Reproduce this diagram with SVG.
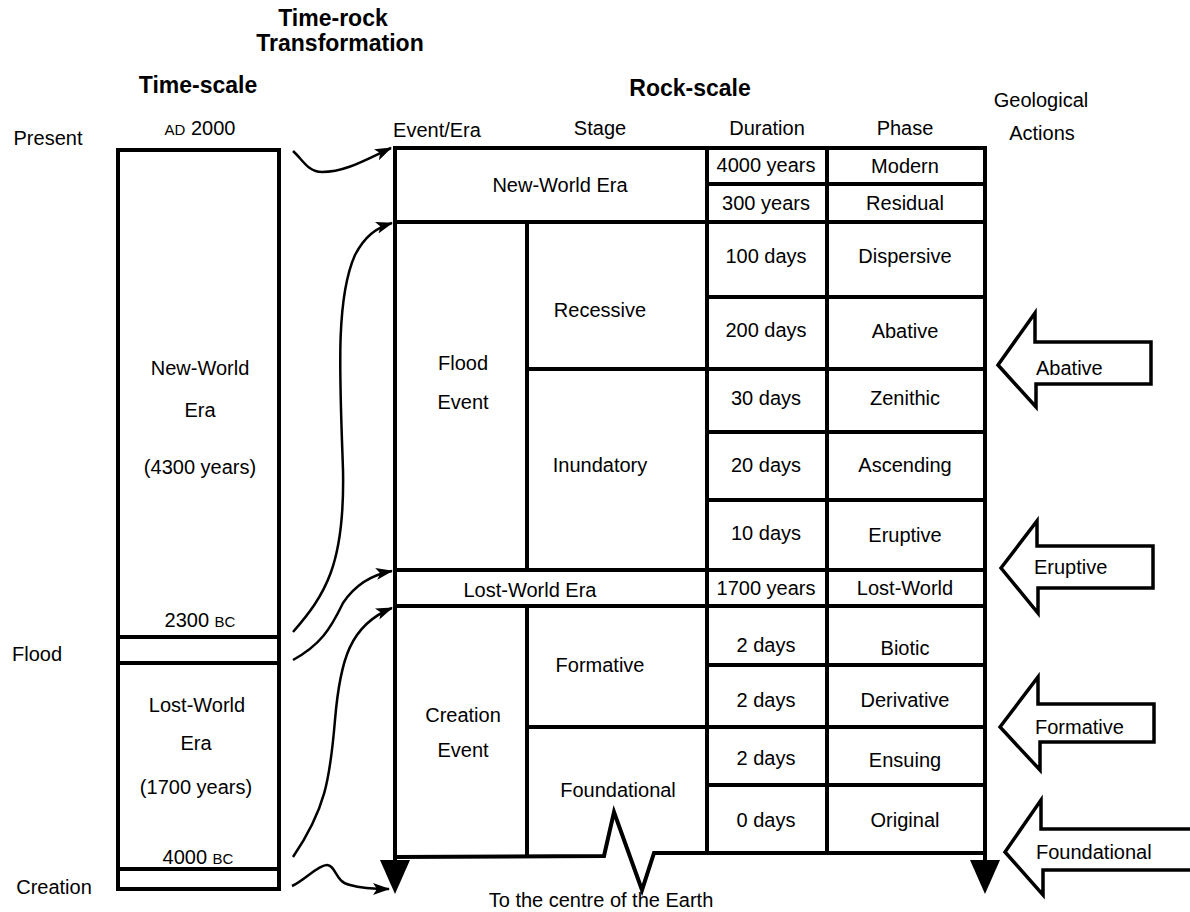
<svg xmlns="http://www.w3.org/2000/svg" width="1190" height="912" viewBox="0 0 1190 912">
<style>
  text { font-family: "Liberation Sans", Arial, sans-serif; font-size: 20px; fill: #000; }
  .c { text-anchor: middle; }
  .b { font-weight: bold; font-size: 23px; }
  .sc { font-size: 15px; }
  .ln { stroke: #000; stroke-width: 4; fill: none; }
  .box { stroke: #000; stroke-width: 4; fill: #fff; }
  .con { stroke: #000; stroke-width: 2.5; fill: none; marker-end: url(#ah); }
  .blk { stroke: #000; stroke-width: 3.5; fill: #fff; stroke-linejoin: miter; }
</style>
<defs>
  <marker id="ah" markerUnits="userSpaceOnUse" markerWidth="18" markerHeight="14" refX="16" refY="6" orient="auto">
    <path d="M0,0 L17,6 L0,12 L4,6 Z" fill="#000"/>
  </marker>
</defs>
<rect width="1190" height="912" fill="#fff"/>

<g id="headers">
  <text class="c b" x="333" y="26">Time-rock</text>
  <text class="c b" x="340" y="51">Transformation</text>
  <text class="c b" x="198" y="93">Time-scale</text>
  <text class="c b" x="690" y="96">Rock-scale</text>
  <text class="c" x="1041" y="107">Geological</text>
  <text class="c" x="1042" y="140">Actions</text>
  <text class="c" x="48" y="145">Present</text>
  <text class="c" x="200" y="135"><tspan class="sc">AD</tspan> 2000</text>
  <text class="c" x="437" y="137">Event/Era</text>
  <text class="c" x="600" y="135">Stage</text>
  <text class="c" x="767" y="135">Duration</text>
  <text class="c" x="905" y="135">Phase</text>
  <text class="c" x="37" y="661">Flood</text>
  <text class="c" x="54" y="894">Creation</text>
</g>

<g id="time-scale">
  <rect class="ln" x="118" y="150" width="161" height="739"/>
  <line class="ln" x1="118" y1="637" x2="279" y2="637"/>
  <line class="ln" x1="118" y1="663" x2="279" y2="663"/>
  <line class="ln" x1="118" y1="869" x2="279" y2="869"/>
  <text class="c" x="200" y="375">New-World</text>
  <text class="c" x="200" y="417">Era</text>
  <text class="c" x="200" y="474">(4300 years)</text>
  <text class="c" x="200" y="627">2300 <tspan class="sc">BC</tspan></text>
  <text class="c" x="197" y="712">Lost-World</text>
  <text class="c" x="196" y="750">Era</text>
  <text class="c" x="196" y="794">(1700 years)</text>
  <text class="c" x="198" y="864">4000 <tspan class="sc">BC</tspan></text>
</g>

<g id="rock-scale">
  <line class="ln" x1="395" y1="148" x2="985" y2="148"/>
  <line class="ln" x1="395" y1="146" x2="395" y2="866"/>
  <line class="ln" x1="985" y1="146" x2="985" y2="866"/>
  <polygon points="380,860 410,860 395,894" fill="#000"/>
  <polygon points="970,860 1000,860 985,894" fill="#000"/>
  <path class="ln" d="M395,857 L604,856 L614,812 L642,890 L654,853 L985,853" stroke-linejoin="miter"/>
  <line class="ln" x1="395" y1="222" x2="985" y2="222"/>
  <line class="ln" x1="395" y1="570" x2="985" y2="570"/>
  <line class="ln" x1="395" y1="606" x2="985" y2="606"/>
  <line class="ln" x1="527" y1="369" x2="985" y2="369"/>
  <line class="ln" x1="527" y1="727" x2="985" y2="727"/>
  <line class="ln" x1="707" y1="184" x2="985" y2="184"/>
  <line class="ln" x1="707" y1="297" x2="985" y2="297"/>
  <line class="ln" x1="707" y1="432" x2="985" y2="432"/>
  <line class="ln" x1="707" y1="500" x2="985" y2="500"/>
  <line class="ln" x1="707" y1="665" x2="985" y2="665"/>
  <line class="ln" x1="707" y1="785" x2="985" y2="785"/>
  <line class="ln" x1="527" y1="222" x2="527" y2="570"/>
  <line class="ln" x1="527" y1="606" x2="527" y2="856"/>
  <line class="ln" x1="707" y1="148" x2="707" y2="854"/>
  <line class="ln" x1="827" y1="148" x2="827" y2="854"/>

  <text class="c" x="560" y="192">New-World Era</text>
  <text class="c" x="766" y="172">4000 years</text>
  <text class="c" x="766" y="210">300 years</text>
  <text class="c" x="905" y="173">Modern</text>
  <text class="c" x="905" y="210">Residual</text>
  <text class="c" x="463" y="370">Flood</text>
  <text class="c" x="463" y="409">Event</text>
  <text class="c" x="600" y="317">Recessive</text>
  <text class="c" x="600" y="472">Inundatory</text>
  <text class="c" x="766" y="263">100 days</text>
  <text class="c" x="766" y="337">200 days</text>
  <text class="c" x="766" y="405">30 days</text>
  <text class="c" x="766" y="472">20 days</text>
  <text class="c" x="766" y="540">10 days</text>
  <text class="c" x="905" y="263">Dispersive</text>
  <text class="c" x="905" y="338">Abative</text>
  <text class="c" x="905" y="405">Zenithic</text>
  <text class="c" x="905" y="472">Ascending</text>
  <text class="c" x="905" y="542">Eruptive</text>
  <text class="c" x="530" y="597">Lost-World Era</text>
  <text class="c" x="766" y="595">1700 years</text>
  <text class="c" x="905" y="595">Lost-World</text>
  <text class="c" x="766" y="652">2 days</text>
  <text class="c" x="905" y="655">Biotic</text>
  <text class="c" x="600" y="672">Formative</text>
  <text class="c" x="766" y="707">2 days</text>
  <text class="c" x="905" y="707">Derivative</text>
  <text class="c" x="463" y="722">Creation</text>
  <text class="c" x="463" y="757">Event</text>
  <text class="c" x="766" y="765">2 days</text>
  <text class="c" x="905" y="767">Ensuing</text>
  <text class="c" x="618" y="797">Foundational</text>
  <text class="c" x="766" y="827">0 days</text>
  <text class="c" x="905" y="827">Original</text>
  <text class="c" x="601" y="907">To the centre of the Earth</text>
</g>

<g id="connectors">
  <path class="con" d="M293,151 C303,160 308,172 322,172 C345,172 365,160 391,148"/>
  <path class="con" d="M293,632 C325,595 345,565 343,470 C340,380 335,300 355,255 C365,236 376,228 392,223"/>
  <path class="con" d="M293,660 C320,645 330,630 343,603 C355,585 370,575 392,571"/>
  <path class="con" d="M293,857 C325,810 330,780 335,720 C340,660 350,625 392,608"/>
  <path class="con" d="M292,886 C305,880 318,865 327,865 C336,865 335,882 350,885 C360,888 372,889 389,889"/>
</g>

<g id="action-abative">
  <path class="blk" d="M998,365 L1035,313 L1035,342 L1151,342 L1151,384 L1036,384 L1036,407 Z"/>
  <text x="1036" y="375">Abative</text>
</g>
<g id="action-eruptive">
  <path class="blk" d="M1001,568 L1037,521 L1037,546 L1153,546 L1153,588 L1038,588 L1038,613 Z"/>
  <text x="1034" y="574">Eruptive</text>
</g>
<g id="action-formative">
  <path class="blk" d="M1000,727 L1038,677 L1038,704 L1154,704 L1154,742 L1040,742 L1040,770 Z"/>
  <text x="1035" y="734">Formative</text>
</g>
<g id="action-foundational">
  <path class="blk" d="M1196,829 L1041,829 L1041,800 L1005,852 L1043,895 L1043,870 L1196,870"/>
  <text x="1036" y="859">Foundational</text>
</g>
</svg>
